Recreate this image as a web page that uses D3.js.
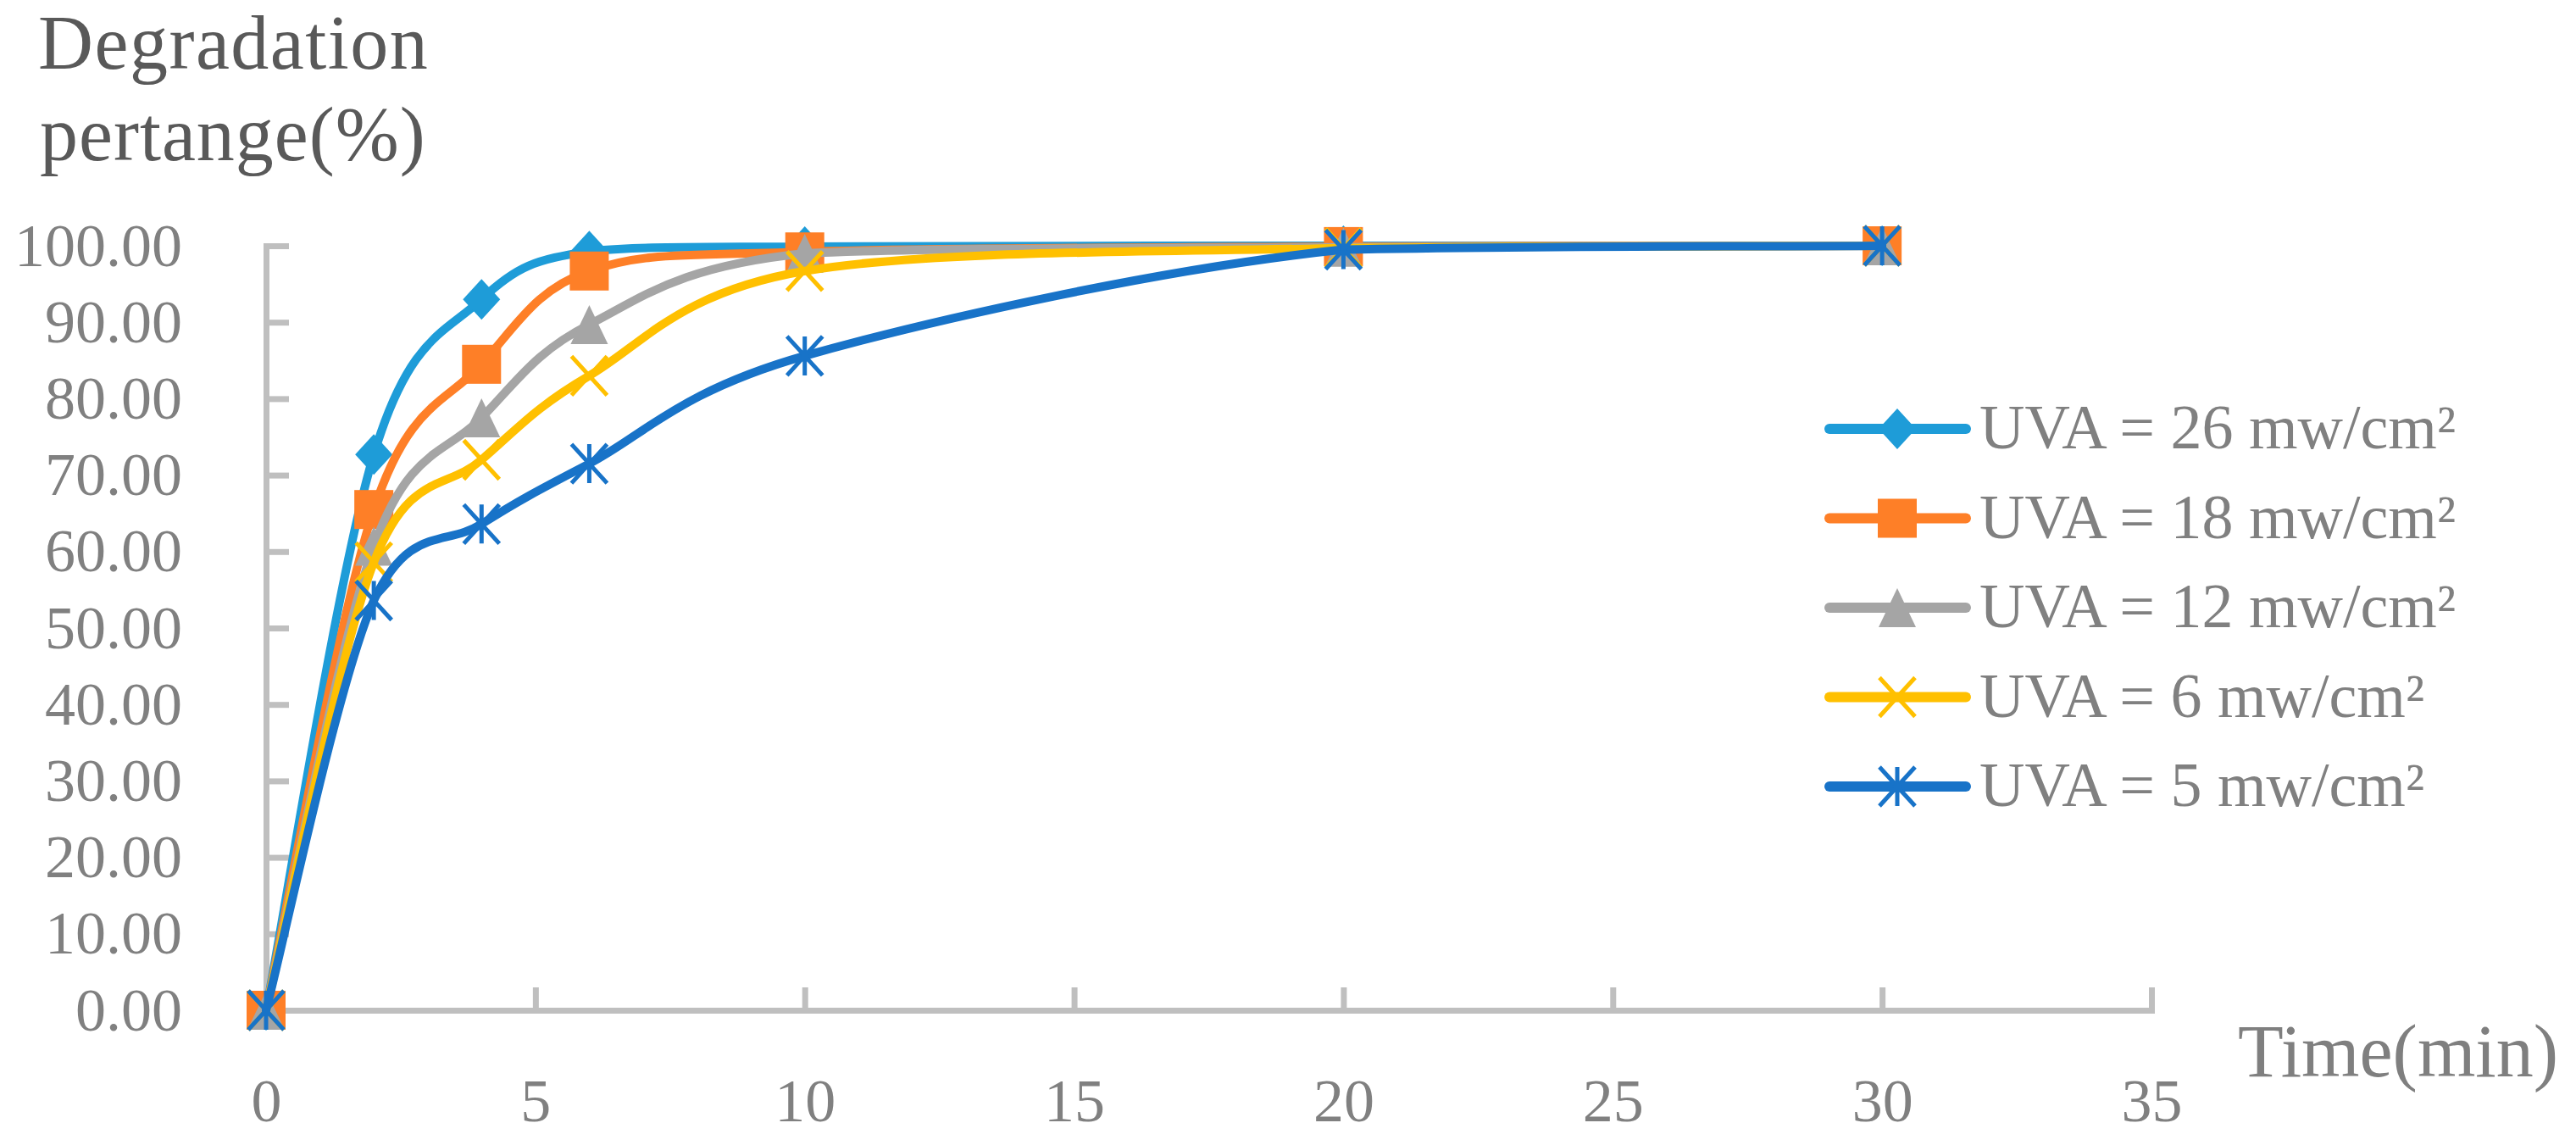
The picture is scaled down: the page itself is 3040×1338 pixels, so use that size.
<!DOCTYPE html>
<html>
<head>
<meta charset="utf-8">
<script src="https://cdn.jsdelivr.net/npm/d3@7"></script>
<style>
  html, body { margin: 0; padding: 0; background: #ffffff; }
  svg { display: block; }
</style>
</head>
<body>
<svg id="chart" width="3040" height="1338"></svg>
<script>
// ---- data ----
const time = [0, 2, 4, 6, 10, 20, 30];
const uva26 = [0, 72.7, 93.0, 99.3, 99.9, 100, 100];
const uva18 = [0, 65.5, 84.5, 96.7, 99.2, 99.9, 100];
const uva12 = [0, 60.7, 77.5, 89.7, 99.0, 99.8, 100];
const uva6  = [0, 58.6, 72.0, 83.0, 96.7, 99.7, 100];
const uva5  = [0, 53.6, 63.6, 71.5, 85.6, 99.5, 100];
const seriesNames = ["UVA = 26 mw/cm²", "UVA = 18 mw/cm²", "UVA = 12 mw/cm²", "UVA = 6 mw/cm²", "UVA = 5 mw/cm²"];
const xTicks = [0, 5, 10, 15, 20, 25, 30, 35];
const yTicks = [0, 10, 20, 30, 40, 50, 60, 70, 80, 90, 100];
const yTitle = ["Degradation", "pertange(%)"];
const xTitle = "Time(min)";

// ---- styles ----
const colors = ["#1e9cd8", "#fe7f27", "#a5a5a5", "#ffc000", "#1873c8"];
const markers = ["diamond", "square", "triangle", "x", "star"];
const allValues = [uva26, uva18, uva12, uva6, uva5];
const series = seriesNames.map((n, i) => ({
  name: n, color: colors[i], marker: markers[i],
  points: time.map((t, j) => ({ t: t, v: allValues[i][j] }))
}));

const FONT = "'Liberation Serif', 'Times New Roman', serif";
const svg = d3.select("#chart");

const x = d3.scaleLinear().domain([0, 35]).range([314, 2539]);
const y = d3.scaleLinear().domain([0, 100]).range([1192, 290]);

// ---- axes ----
const yAxis = d3.axisLeft(y).tickValues(yTicks).tickFormat(d3.format(".2f"))
  .tickSize(-27).tickSizeOuter(0).tickPadding(99);
const gy = svg.append("g").attr("transform", `translate(${x(0)},0)`).call(yAxis);

const xAxis = d3.axisBottom(x).tickValues(xTicks).tickFormat(d3.format("d"))
  .tickSize(-27).tickSizeOuter(0).tickPadding(80);
const gx = svg.append("g").attr("transform", `translate(0,${y(0)})`).call(xAxis);

[gx, gy].forEach(g => {
  g.select(".domain").attr("stroke", "#bfbfbf").attr("stroke-width", 7).attr("stroke-linecap", "square");
  g.selectAll(".tick line").attr("stroke", "#bfbfbf").attr("stroke-width", 7);
  g.selectAll(".tick text").attr("fill", "#808080").style("font-family", FONT).style("font-size", "72px");
});

// ---- titles ----
svg.append("text").attr("x", 45).attr("y", 81).text(yTitle[0])
  .attr("fill", "#595959").style("font-family", FONT).style("font-size", "90px").style("letter-spacing", "1.5px");
svg.append("text").attr("x", 47).attr("y", 189).text(yTitle[1])
  .attr("fill", "#595959").style("font-family", FONT).style("font-size", "90px").style("letter-spacing", "1px");
svg.append("text").attr("x", 2641).attr("y", 1270).text(xTitle)
  .attr("fill", "#7f7f7f").style("font-family", FONT).style("font-size", "88px");

// ---- markers ----
function drawMarker(g, type, color) {
  if (type === "diamond") {
    g.append("path").attr("d", "M0,-24L22,0L0,24L-22,0Z").attr("fill", color);
  } else if (type === "square") {
    g.append("rect").attr("x", -23).attr("y", -23).attr("width", 46).attr("height", 46).attr("fill", color);
  } else if (type === "triangle") {
    g.append("path").attr("d", "M0,-23L22,23L-22,23Z").attr("fill", color);
  } else if (type === "x" || type === "star") {
    g.append("path").attr("d", "M-21,-23L21,23M21,-23L-21,23" + (type === "star" ? "M0,-23L0,23" : ""))
      .attr("stroke", color).attr("stroke-width", 5).attr("fill", "none");
  }
}

// ---- smoothed curve (Catmull-Rom style, without overshoot beyond segment ends) ----
function SmoothClamped(context) { this._context = context; }
SmoothClamped.prototype = {
  areaStart() {}, areaEnd() {},
  lineStart() { this._pts = []; },
  point(px, py) { this._pts.push([+px, +py]); },
  lineEnd() {
    const p = this._pts, n = p.length, c = this._context;
    if (!n) return;
    c.moveTo(p[0][0], p[0][1]);
    for (let i = 0; i < n - 1; i++) {
      const p0 = p[Math.max(i - 1, 0)], p1 = p[i], p2 = p[i + 1], p3 = p[Math.min(i + 2, n - 1)];
      const c1x = p1[0] + (p2[0] - p0[0]) / 6;
      let c1y = p1[1] + (p2[1] - p0[1]) / 6;
      const c2x = p2[0] - (p3[0] - p1[0]) / 6;
      let c2y = p2[1] - (p3[1] - p1[1]) / 6;
      const lo = Math.min(p1[1], p2[1]), hi = Math.max(p1[1], p2[1]);
      c1y = Math.max(lo, Math.min(hi, c1y));
      c2y = Math.max(lo, Math.min(hi, c2y));
      c.bezierCurveTo(c1x, c1y, c2x, c2y, p2[0], p2[1]);
    }
  }
};
const smoothCurve = ctx => new SmoothClamped(ctx);

// ---- series ----
const line = d3.line().x(d => x(d.t)).y(d => y(d.v)).curve(smoothCurve);
series.forEach(s => {
  const g = svg.append("g");
  g.append("path").datum(s.points).attr("d", line)
    .attr("fill", "none").attr("stroke", s.color).attr("stroke-width", 10)
    .attr("stroke-linejoin", "round").attr("stroke-linecap", "round");
  s.points.forEach(p => {
    const mg = g.append("g").attr("transform", `translate(${x(p.t)},${y(p.v)})`);
    drawMarker(mg, s.marker, s.color);
  });
});

// ---- legend ----
const legend = svg.append("g");
series.forEach((s, i) => {
  const cy = 506 + i * 105.5;
  const lg = legend.append("g");
  lg.append("line").attr("x1", 2159).attr("x2", 2320).attr("y1", cy).attr("y2", cy)
    .attr("stroke", s.color).attr("stroke-width", 12).attr("stroke-linecap", "round");
  drawMarker(lg.append("g").attr("transform", `translate(2239,${cy})`), s.marker, s.color);
  lg.append("text").attr("x", 2336).attr("y", cy + 23).text(s.name)
    .attr("fill", "#808080").style("font-family", FONT).style("font-size", "74px");
});
</script>
</body>
</html>
